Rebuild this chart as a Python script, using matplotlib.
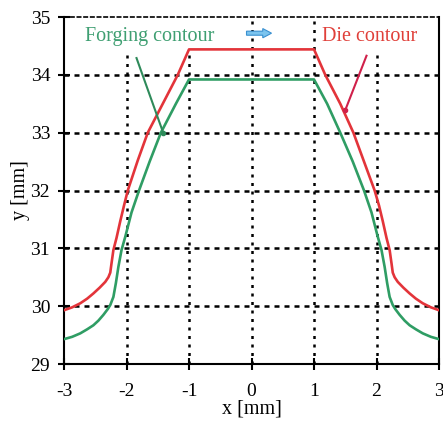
import matplotlib
matplotlib.use("Agg")
import matplotlib.pyplot as plt
from matplotlib.patches import FancyArrow

plt.rcParams['font.family'] = ['Liberation Serif', 'DejaVu Serif']

# die contour (red)
die_x = [-3.0, -2.87, -2.74, -2.63, -2.53, -2.43, -2.34, -2.29, -2.26, -2.24, -2.21, -2.16, -2.1,
         -2.04, -1.98, -1.82, -1.66, -1.42, -1.18, -1.0,
         1.0, 1.18, 1.42, 1.63, 1.8, 1.97, 2.04, 2.1, 2.16, 2.21, 2.24, 2.26, 2.29, 2.34, 2.43,
         2.53, 2.63, 2.74, 2.87, 3.0]
die_y = [29.93, 29.98, 30.05, 30.13, 30.22, 30.32, 30.42, 30.5, 30.58, 30.74, 30.97, 31.18, 31.47,
         31.74, 32.0, 32.52, 33.0, 33.5, 34.0, 34.44,
         34.44, 34.0, 33.5, 33.0, 32.5, 32.0, 31.74, 31.47, 31.18, 30.97, 30.74, 30.58, 30.5,
         30.42, 30.32, 30.22, 30.13, 30.05, 29.98, 29.93]

# forging contour (green)
forg_x = [-3.0, -2.87, -2.74, -2.63, -2.53, -2.45, -2.37, -2.3, -2.26, -2.21, -2.17, -2.13, -2.08,
          -2.02, -1.92, -1.8, -1.63, -1.45, -1.21, -1.0,
          1.0, 1.21, 1.42, 1.62, 1.8, 1.92, 2.02, 2.08, 2.13, 2.17, 2.21, 2.26, 2.3, 2.37, 2.45,
          2.53, 2.63, 2.74, 2.87, 3.0]
forg_y = [29.43, 29.47, 29.53, 29.6, 29.67, 29.75, 29.85, 29.95, 30.02, 30.16, 30.4, 30.68, 30.97,
          31.2, 31.62, 32.0, 32.5, 33.0, 33.5, 33.92,
          33.92, 33.5, 33.0, 32.5, 32.0, 31.62, 31.2, 30.97, 30.68, 30.4, 30.16, 30.02, 29.95,
          29.85, 29.75, 29.67, 29.6, 29.53, 29.47, 29.43]

xticks = [-3, -2, -1, 0, 1, 2, 3]
yticks = [29, 30, 31, 32, 33, 34, 35]

red = '#e3343a'
green = '#2f9d64'

fig = plt.figure(figsize=(4.43, 4.25), dpi=100)
ax = fig.add_axes([0.1445, 0.1435, 0.8465, 0.8165])

for gx in [-2, -1, 0, 1, 2]:
    ax.axvline(gx, color='black', lw=1.8, ls=(0, (1.2, 2.2)), zorder=1)
for gy in [30, 31, 32, 33, 34]:
    ax.axhline(gy, color='black', lw=1.8, ls=(0, (2.0, 2.0)), zorder=1)

ax.plot(die_x, die_y, color=red, lw=1.9, zorder=3)
ax.plot(forg_x, forg_y, color=green, lw=1.9, zorder=3)

# labels and pointer arrows
box = dict(facecolor='white', edgecolor='none', pad=4)
ax.text(-2.66, 34.59, 'Forging contour', color='#3f9f72', fontsize=14.5, zorder=2, bbox=box)
ax.text(1.12, 34.59, 'Die contour', color='#e0403a', fontsize=14.5, zorder=2, bbox=box)
ax.plot([-1.84, -1.41], [34.29, 32.99], color='#2e8a5a', lw=1.5, zorder=4)
ax.plot([-1.41], [32.99], 'o', color='#2e8a5a', ms=3, zorder=4)
ax.plot([1.84, 1.5], [34.33, 33.39], color='#d0204a', lw=1.5, zorder=4)
ax.plot([1.5], [33.39], 'o', color='#d0204a', ms=3, zorder=4)
ax.add_patch(FancyArrow(-0.08, 34.72, 0.4, 0, width=0.07, head_width=0.16,
                        head_length=0.14, length_includes_head=True,
                        facecolor='#7cc4ee', edgecolor='#3a90d0', lw=0.8, zorder=4))

ax.set_xlim(-3, 3)
ax.set_ylim(29, 35)
ax.set_xticks(xticks)
ax.set_yticks(yticks)
ax.set_xticklabels([str(t) for t in xticks])
ax.set_yticklabels([str(t) for t in yticks])
ax.tick_params(direction='inout', length=8, width=1.5, labelsize=14, colors='black')
ax.tick_params(axis='x', pad=10)
ax.tick_params(axis='y', pad=6)
ax.set_xlabel('x [mm]', fontsize=14.5, labelpad=-1)
ax.set_ylabel('y [mm]', fontsize=14.5, labelpad=0)

ax.spines['left'].set_linewidth(1.5)
ax.spines['bottom'].set_linewidth(1.5)
ax.spines['right'].set_linewidth(1.5)
ax.spines['top'].set_linewidth(1.2)
ax.spines['top'].set_linestyle((0, (2.0, 2.0)))

fig.savefig('out.png', dpi=100)
